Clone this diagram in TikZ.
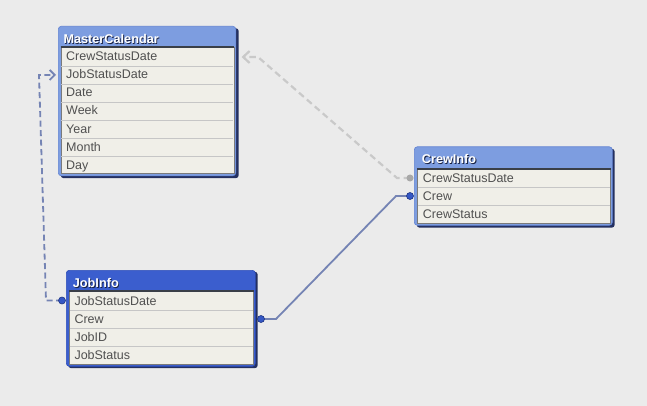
\documentclass[tikz,border=0pt]{standalone}
\usepackage{fontspec}
\setmainfont{Liberation Sans}
\usetikzlibrary{arrows.meta}
\definecolor{bgc}{HTML}{EBEBEB}
\definecolor{hdrlight}{HTML}{7D9DE0}
\definecolor{hdrlightedge}{HTML}{6283D3}
\definecolor{hdrdark}{HTML}{3B5ECE}
\definecolor{hdrdarkedge}{HTML}{2D4DB8}
\definecolor{navy}{HTML}{243060}
\definecolor{rowbg}{HTML}{F0EFE8}
\definecolor{rowedge}{HTML}{7A7A7A}
\definecolor{hdrline}{HTML}{3A3F48}
\definecolor{sepc}{HTML}{C6C6C6}
\definecolor{rowtext}{HTML}{505050}
\definecolor{connc}{HTML}{7584B4}
\definecolor{grayc}{HTML}{C9C9C9}
\definecolor{dotblue}{HTML}{3457C4}
\definecolor{dotring}{HTML}{1E3482}
\definecolor{dotgray}{HTML}{A8A8A8}
\begin{document}
\begin{tikzpicture}[x=1pt,y=-1pt,
  shadowbox/.style={fill=navy, rounded corners=3pt, inner sep=0pt, anchor=north west},
  lightbox/.style={fill=hdrlight, draw=hdrlightedge, line width=0.6pt, rounded corners=3pt, inner sep=0pt, anchor=north west},
  darkbox/.style={fill=hdrdark, draw=hdrdarkedge, line width=0.6pt, rounded corners=3pt, inner sep=0pt, anchor=north west},
  rowsarea/.style={fill=rowbg, draw=rowedge, line width=0.7pt, inner sep=0pt, anchor=north west},
  hline/.style={draw=hdrline, line width=1.3pt},
  sepline/.style={draw=sepc, line width=0.9pt},
  rowtxt/.style={font=\fontsize{12.5}{14}\selectfont, text=rowtext, inner sep=0pt, anchor=base west},
  hdrtxt/.style={font=\bfseries\fontsize{12.7}{14}\selectfont, text=white, inner sep=0pt, anchor=base west},
  hdrshade/.style={hdrtxt, text=navy!70!black},
  conn/.style={draw=connc, line width=1.8pt},
  bdash/.style={conn, dash pattern=on 6pt off 3.5pt},
  gdash/.style={draw=grayc, line width=2.2pt, dash pattern=on 6.5pt off 4pt},
  bluedot/.style={circle, fill=dotblue, draw=dotring, line width=0.6pt, minimum size=7pt, inner sep=0pt},
  graydot/.style={circle, fill=dotgray, minimum size=7pt, inner sep=0pt}
]
\fill[bgc] (0,0) rectangle (647,406);
\useasboundingbox (0,0) rectangle (647,406);

% ---------- MasterCalendar ----------
\node[shadowbox, minimum width=178pt, minimum height=150pt] (mcsh) at (60.5,28) {};
\node[lightbox, minimum width=177.5pt, minimum height=149.5pt] (mc) at (58,26) {};
\node[rowsarea, minimum width=173pt, minimum height=126.5pt] (mcr) at (60.5,47) {};
\draw[hline] (mcr.north west) -- (mcr.north east);
\foreach \yy in {66.5,84.5,102.5,120.3,138.5,156.5}
  \draw[sepline] (61,\yy) -- (233,\yy);
\node[hdrshade] (mcts) at (64.2,44.8) {MasterCalendar};
\node[hdrtxt] (mct) at (63.3,44) {MasterCalendar};
\node[rowtxt] (mc1) at (66,60.7) {CrewStatusDate};
\node[rowtxt] (mc2) at (66,78.8) {JobStatusDate};
\node[rowtxt] (mc3) at (66,96.9) {Date};
\node[rowtxt] (mc4) at (66,115.0) {Week};
\node[rowtxt] (mc5) at (66,133.1) {Year};
\node[rowtxt] (mc6) at (66,151.2) {Month};
\node[rowtxt] (mc7) at (66,169.3) {Day};

% ---------- CrewInfo ----------
\node[shadowbox, minimum width=198pt, minimum height=79pt] (cish) at (416.5,148.5) {};
\node[lightbox, minimum width=198pt, minimum height=78.5pt] (ci) at (414,146.5) {};
\node[rowsarea, minimum width=193pt, minimum height=54pt] (cir) at (417,169) {};
\draw[hline] (cir.north west) -- (cir.north east);
\foreach \yy in {187.3,205.3}
  \draw[sepline] (417.5,\yy) -- (609.5,\yy);
\node[hdrshade] (cits) at (422.6,164.8) {CrewInfo};
\node[hdrtxt] (cit) at (421.7,164) {CrewInfo};
\node[rowtxt] (ci1) at (422.7,182.3) {CrewStatusDate};
\node[rowtxt] (ci2) at (422.7,200.3) {Crew};
\node[rowtxt] (ci3) at (422.7,218.3) {CrewStatus};

% ---------- JobInfo ----------
\node[shadowbox, minimum width=189.5pt, minimum height=96.5pt] (jish) at (68,271.5) {};
\node[darkbox, minimum width=189pt, minimum height=96pt] (ji) at (66,270) {};
\node[rowsarea, minimum width=184pt, minimum height=72.5pt] (jir) at (69,291) {};
\draw[hline] (jir.north west) -- (jir.north east);
\foreach \yy in {310,328.3,346}
  \draw[sepline] (69.5,\yy) -- (252.5,\yy);
\node[hdrshade] (jits) at (73.6,288.1) {JobInfo};
\node[hdrtxt] (jit) at (72.7,287.3) {JobInfo};
\node[rowtxt] (ji1) at (74.3,305.7) {JobStatusDate};
\node[rowtxt] (ji2) at (74.3,323.5) {Crew};
\node[rowtxt] (ji3) at (74.3,341.6) {JobID};
\node[rowtxt] (ji4) at (74.3,359.3) {JobStatus};

% ---------- connector end points ----------
\coordinate (pJ) at (62,300.5);
\coordinate (mcJ) at (56,75);
\coordinate (pJC) at (261,319);
\coordinate (pCC) at (410,196);
\coordinate (pCS) at (410,178);
\coordinate (mcS) at (241.5,57);

% ---------- connectors ----------
\draw[gdash, -{Straight Barb[length=6.5pt,width=12pt,line width=2.2pt]}]
  (pCS) -- (397,178) -- (258,57) -- (mcS);
\draw[bdash, -{Straight Barb[length=5pt,width=10pt,line width=1.8pt]}]
  (pJ) -- (46,300.5) -- (39,75) -- (mcJ);
\draw[conn] (pJC) -- (276,319) -- (396,196) -- (pCC);

% ---------- dots ----------
\node[bluedot] (dJ) at (pJ) {};
\node[bluedot] (dJC) at (pJC) {};
\node[bluedot] (dCC) at (pCC) {};
\node[graydot] (dCS) at (pCS) {};
\end{tikzpicture}
\end{document}
